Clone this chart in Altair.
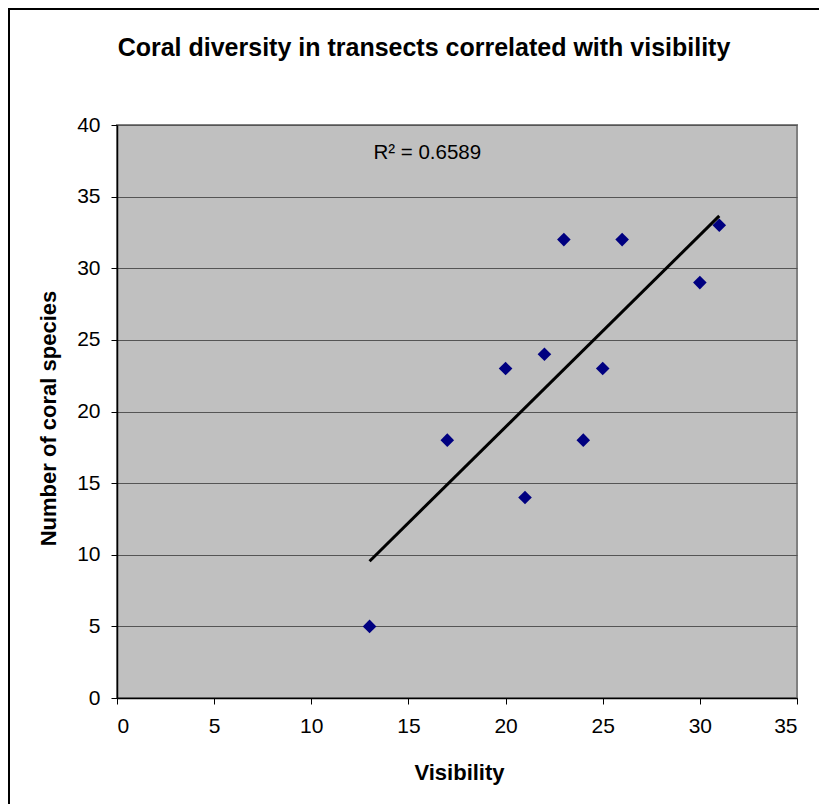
import altair as alt
import pandas as pd

# ---- data ----
visibility = [13, 17, 20, 21, 22, 23, 24, 25, 26, 30, 31]
coral_species = [5, 18, 23, 14, 24, 32, 18, 23, 32, 29, 33]
x_ticks = [0, 5, 10, 15, 20, 25, 30, 35]
y_ticks = [0, 5, 10, 15, 20, 25, 30, 35, 40]
chart_title = "Coral diversity in transects correlated with visibility"
r2_label = ["R\u00b2 = 0.6589"]
r2_pos_x = [13.2]
r2_pos_y = [38.05]

FONT = "Liberation Sans"
W, H = 680, 573

df = pd.DataFrame({"Visibility": visibility, "Species": coral_species})
r2_df = pd.DataFrame({"label": r2_label, "x": r2_pos_x, "y": r2_pos_y})
one = pd.DataFrame({"t": [chart_title]})

x_scale = alt.Scale(domain=[0, 35], nice=False, zero=False)
y_scale = alt.Scale(domain=[0, 40], nice=False, zero=False)

x_enc = alt.X(
    "Visibility:Q",
    scale=x_scale,
    axis=alt.Axis(
        values=x_ticks, grid=False, title="Visibility",
        labelPadding=11, titleX=342, titleY=81, titleBaseline="alphabetic",
    ),
)
y_enc = alt.Y(
    "Species:Q",
    scale=y_scale,
    axis=alt.Axis(
        values=y_ticks, grid=True, title="Number of coral species",
        labelPadding=11, titleX=-62, titleY=293, titleAngle=270,
        titleBaseline="alphabetic",
    ),
)

points = alt.Chart(df).mark_point(
    shape="diamond", filled=True, size=185, color="#000080", opacity=1
).encode(x=x_enc, y=y_enc)

trend = alt.Chart(df).transform_regression(
    "Visibility", "Species"
).mark_line(color="black", strokeWidth=3).encode(
    x=alt.X("Visibility:Q", scale=x_scale),
    y=alt.Y("Species:Q", scale=y_scale),
)

r2_text = alt.Chart(r2_df).mark_text(
    align="left", baseline="middle", fontSize=20.5, font=FONT, color="black"
).encode(
    x=alt.X("x:Q", scale=x_scale),
    y=alt.Y("y:Q", scale=y_scale),
    text="label:N",
)

title_text = alt.Chart(one).mark_text(
    align="center", baseline="middle", fontSize=25, fontWeight="bold",
    font=FONT, color="black",
).encode(x=alt.value(307), y=alt.value(-77), text="t:N")

border_top = alt.Chart(one).mark_rule(color="black", strokeWidth=2).encode(
    x=alt.value(-109), x2=alt.value(W + 40), y=alt.value(-116)
)
border_left = alt.Chart(one).mark_rule(color="black", strokeWidth=2).encode(
    x=alt.value(-108), y=alt.value(-117), y2=alt.value(H + 120)
)

chart = alt.layer(border_top, border_left, points, trend, r2_text, title_text).properties(
    width=W, height=H,
    autosize=alt.AutoSizeParams(type="none"),
    padding={"left": 109, "top": 117, "right": 22, "bottom": 106},
    background="white",
).configure_view(
    fill="#C0C0C0", stroke="#808080", strokeWidth=2
).configure_axis(
    labelFont=FONT, labelFontSize=21, labelColor="black",
    titleFont=FONT, titleFontSize=22, titleFontWeight="bold", titleColor="black",
    tickColor="black", tickSize=6, tickWidth=1,
    domainColor="black", domainWidth=1.5,
    gridColor="#555555", gridWidth=1,
)

chart.save("out.html", embed_options={"renderer": "svg", "actions": False})
